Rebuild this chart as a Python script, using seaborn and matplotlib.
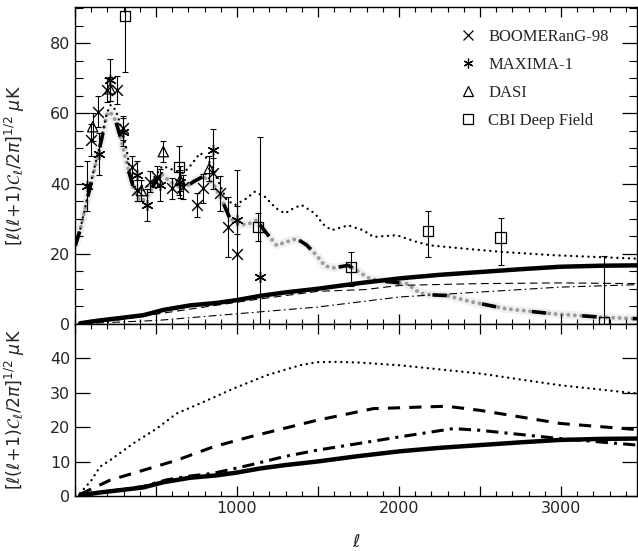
import matplotlib
matplotlib.use('Agg')
import matplotlib.pyplot as plt
from matplotlib.ticker import MultipleLocator, FuncFormatter
from matplotlib.lines import Line2D
import seaborn as sns
import pandas as pd

# CMB band powers (ell, deltaT in muK)
boom_l = [100, 144, 200, 257, 298, 350, 381, 463, 504, 597, 665, 751, 792, 854, 895, 946, 998]
boom_y = [52.4, 60.5, 66.7, 66.7, 55.8, 44.8, 38.1, 40.5, 42.0, 38.6, 39.0, 33.9, 38.6, 42.9, 37.2, 27.7, 20.0]
boom_e = [4.5, 4.5, 3.5, 4.0, 3.5, 3.0, 3.0, 3.0, 3.0, 3.0, 3.5, 3.5, 4.0, 4.5, 5.0, 8.5, 24.0]

max_l = [76, 148, 216, 294, 381, 442, 525, 648, 854, 1002, 1142]
max_y = [39.3, 48.4, 69.6, 54.8, 42.4, 33.9, 39.6, 40.5, 49.6, 29.6, 13.4]
max_lo = [7.0, 6.0, 6.0, 4.0, 4.0, 4.5, 4.5, 4.5, 6.0, 4.0, 13.4]
max_hi = [7.0, 6.0, 6.0, 4.0, 4.0, 4.5, 4.5, 4.5, 6.0, 4.0, 40.0]

dasi_l = [109, 216, 410, 545, 650, 829]
dasi_y = [56.2, 67.0, 38.0, 49.1, 41.0, 44.3]
dasi_e = [4.0, 3.5, 3.0, 3.0, 3.0, 3.5]

cbi_l = [309, 642, 1131, 1702, 2181, 2627, 3265]
cbi_y = [87.7, 44.8, 27.7, 16.2, 26.5, 24.6, 0.5]
cbi_lo = [16.0, 8.0, 4.0, 5.5, 7.4, 7.7, 0.5]
cbi_hi = [16.0, 6.0, 4.0, 4.2, 5.6, 5.7, 18.8]

# model curves, top panel
prim_l = [2, 31, 93, 154, 196, 215, 250, 288, 329, 365, 401, 430, 463, 500, 540, 586, 669, 730,
          790, 854, 910, 957, 1019, 1070, 1121, 1180, 1245, 1300, 1368, 1430, 1492, 1543, 1600,
          1687, 1770, 1821, 1900, 2047, 2130, 2200, 2294, 2459, 2665, 2953, 3261, 3470]
prim_y = [22.4, 26.7, 39.0, 50.5, 59.6, 60.5, 58.0, 52.0, 44.0, 38.0, 35.0, 35.5, 37.5, 41.0, 42.5,
          40.5, 38.5, 40.5, 42.0, 40.0, 35.0, 30.0, 28.3, 28.5, 29.5, 26.0, 22.4, 23.3, 24.3, 22.5,
          19.5, 16.5, 16.0, 16.7, 14.3, 12.9, 12.2, 11.5, 8.8, 8.3, 8.1, 6.2, 4.3, 2.9, 1.9, 1.5]

tot_l = [2, 31, 93, 154, 196, 220, 250, 278, 319, 340, 370, 410, 460, 540, 600, 669, 720, 772, 820,
         854, 900, 936, 988, 1050, 1111, 1173, 1240, 1296, 1350, 1399, 1481, 1530, 1584, 1687, 1780,
         1842, 1986, 2100, 2191, 2397, 2644, 2953, 3470]
tot_y = [22.4, 26.7, 39.5, 51.0, 60.0, 62.4, 61.0, 57.2, 49.6, 43.5, 39.0, 37.5, 40.0, 45.0, 44.0,
         42.9, 45.5, 48.7, 47.0, 43.9, 39.0, 35.3, 33.9, 35.5, 37.7, 36.2, 33.0, 31.5, 33.0, 33.9,
         31.5, 28.5, 26.7, 28.1, 26.7, 24.8, 25.3, 23.5, 22.4, 21.5, 20.5, 19.6, 18.6]

sz_l = [31, 150, 278, 422, 545, 710, 875, 998, 1142, 1300, 1492, 1750, 2006, 2250, 2500, 2750, 2994, 3250, 3470]
sz_y = [0.2, 1.0, 1.7, 2.5, 4.0, 5.3, 6.0, 6.8, 8.0, 9.0, 10.0, 11.6, 13.0, 14.0, 14.8, 15.6, 16.3, 16.6, 16.7]

td_l = [31, 278, 500, 750, 1000, 1150, 1500, 1790, 2006, 2500, 2994, 3470]
td_y = [0.1, 1.2, 2.8, 4.5, 6.2, 7.2, 9.3, 9.8, 11.0, 11.5, 11.7, 11.5]

tdd_l = [31, 504, 998, 1492, 2006, 2500, 2994, 3470]
tdd_y = [0.1, 1.0, 2.9, 4.8, 7.7, 9.1, 10.5, 11.2]

# model curves, bottom panel
bd_l = [31, 100, 154, 216, 360, 504, 628, 772, 977, 1183, 1389, 1492, 1600, 1750, 2006, 2500, 2994, 3470]
bd_y = [0.8, 4.5, 8.5, 10.4, 15.3, 19.6, 24.0, 26.9, 31.2, 35.1, 38.0, 38.9, 39.0, 38.8, 38.0, 35.6, 32.2, 29.8]

bdash_l = [31, 216, 422, 628, 854, 1080, 1286, 1492, 1842, 2294, 2500, 2994, 3470]
bdash_y = [0.5, 4.6, 7.5, 10.4, 14.3, 17.2, 19.6, 22.0, 25.4, 26.1, 24.9, 21.1, 19.3]

bdd_l = [31, 278, 422, 566, 710, 854, 1080, 1286, 1492, 2006, 2335, 2500, 2994, 3470]
bdd_y = [0.3, 1.8, 2.8, 4.7, 5.8, 6.6, 9.0, 11.4, 13.3, 17.2, 19.6, 19.1, 16.7, 14.8]

sns.set_theme(style='ticks')
plt.rcParams['font.family'] = ['DejaVu Sans']
plt.rcParams['mathtext.fontset'] = 'dejavusans'

fig = plt.figure(figsize=(6.38, 5.51), dpi=100)
ax1 = fig.add_axes([0.1176, 0.412, 0.8809, 0.5753])
ax2 = fig.add_axes([0.1176, 0.0998, 0.8809, 0.3122], sharex=ax1)

DOTS = (0, (0.05, 2.4))


def line(ax, xs, ys, **kw):
    sns.lineplot(x=xs, y=ys, ax=ax, sort=False, estimator=None, color='black', **kw)


# top panel models
line(ax1, prim_l, prim_y, lw=6, alpha=0.06)
line(ax1, prim_l, prim_y, lw=2.8, alpha=0.35, linestyle=(0, (0.05, 1.6)), dash_capstyle='round')
line(ax1, prim_l, prim_y, lw=2.6, linestyle=(0, (4, 10)))
line(ax1, tot_l, tot_y, lw=1.7, linestyle=DOTS, dash_capstyle='round')
line(ax1, sz_l, sz_y, lw=3.2)
line(ax1, td_l, td_y, lw=0.8, linestyle=(0, (7, 4)))
line(ax1, tdd_l, tdd_y, lw=0.8, linestyle=(0, (7, 3, 1.5, 3)))

# data points
ebar = dict(fmt='none', ecolor='black', elinewidth=0.8, capsize=2.5, capthick=0.8)
ax1.errorbar(boom_l, boom_y, yerr=boom_e, **ebar)
ax1.errorbar(max_l, max_y, yerr=[max_lo, max_hi], **ebar)
ax1.errorbar(dasi_l, dasi_y, yerr=dasi_e, **ebar)
ax1.errorbar(cbi_l, cbi_y, yerr=[cbi_lo, cbi_hi], **ebar)

pts = pd.DataFrame({
    'l': boom_l + max_l + dasi_l + cbi_l,
    'y': boom_y + max_y + dasi_y + cbi_y,
    'exp': ['BOOMERanG-98'] * len(boom_l) + ['MAXIMA-1'] * len(max_l)
           + ['DASI'] * len(dasi_l) + ['CBI Deep Field'] * len(cbi_l),
})
marks = {'BOOMERanG-98': 'x', 'MAXIMA-1': (6, 2, 0), 'DASI': '^', 'CBI Deep Field': 's'}
for name, mk in marks.items():
    sub = pts[pts['exp'] == name]
    if mk in ('^', 's'):
        sns.scatterplot(data=sub, x='l', y='y', ax=ax1, marker=mk, s=55, facecolor='none',
                        edgecolor='black', linewidth=0.9, zorder=5)
    else:
        sns.scatterplot(data=sub, x='l', y='y', ax=ax1, marker=mk, s=60, color='black',
                        linewidth=1.0, zorder=5)

handles = [Line2D([], [], ls='none', marker=mk, color='black', mfc='none', ms=7, mew=0.9)
           for mk in marks.values()]
ax1.legend(handles, list(marks.keys()), loc='upper left', bbox_to_anchor=(0.685, 0.93),
           frameon=False, handlelength=1.0, handletextpad=0.7, borderpad=0, borderaxespad=0,
           labelspacing=0.72, prop={'family': 'Liberation Serif', 'size': 12})

# bottom panel models
line(ax2, bd_l, bd_y, lw=1.7, linestyle=DOTS, dash_capstyle='round')
line(ax2, bdash_l, bdash_y, lw=2.2, linestyle=(0, (4, 3)))
line(ax2, bdd_l, bdd_y, lw=2.2, linestyle=(0, (4, 2, 1, 2)))
line(ax2, sz_l, sz_y, lw=3.2)

ax1.set_xlim(0, 3470)
ax1.set_ylim(0, 90.3)
ax2.set_ylim(0, 50)

ylab = r'$[\ell(\ell\!+\!1)\mathcal{C}_\ell/2\pi]^{1/2}\ \mu\mathrm{K}$'
for ax in (ax1, ax2):
    ax.xaxis.set_major_locator(MultipleLocator(500))
    ax.xaxis.set_minor_locator(MultipleLocator(100))
    ax.tick_params(which='both', direction='in', top=True, right=True, color='black', labelsize=11.5)
    ax.tick_params(which='major', length=7, width=0.9)
    ax.tick_params(which='minor', length=3.5, width=0.8)
    for sp in ax.spines.values():
        sp.set_linewidth(1.0)
        sp.set_color('black')
    ax.set_ylabel(ylab, fontsize=12.5)
    ax.yaxis.set_label_coords(-0.085, 0.5)

ax1.yaxis.set_major_locator(MultipleLocator(20))
ax1.yaxis.set_minor_locator(MultipleLocator(5))
ax1.tick_params(axis='y', which='major', length=11)
ax1.tick_params(axis='y', which='minor', length=6)
ax1.tick_params(axis='x', labelbottom=False)
ax1.set_xlabel('')

ax2.yaxis.set_major_locator(MultipleLocator(10))
ax2.tick_params(axis='y', which='major', length=11)
ax2.set_yticks([0, 10, 20, 30, 40])
ax2.xaxis.set_major_formatter(FuncFormatter(lambda v, p: f'{int(v)}' if v % 1000 == 0 and v > 0 else ''))
ax2.set_xlabel(r'$\ell$', fontsize=13, labelpad=12)

fig.savefig('out.png', dpi=100)
